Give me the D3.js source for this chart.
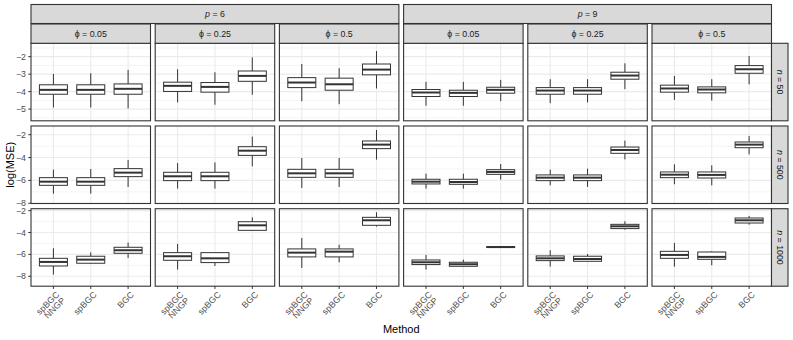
<!DOCTYPE html>
<html>
<head>
<meta charset="utf-8">
<script src="https://cdn.jsdelivr.net/npm/d3@7"></script>
<style>
  html, body { margin: 0; padding: 0; background: #fff; }
  svg { display: block; }
</style>
</head>
<body>
<svg id="chart" width="793" height="340"></svg>
<script>
// ---------------- data ----------------
const pLevels = ["6", "9"];
const phiLevels = ["0.05", "0.25", "0.5"];
const nLevels = ["50", "500", "1000"];
const methods = ["spBGC\nNNGP", "spBGC", "BGC"];

// y tick labels per row (n)
const yTicksN50 = [-5, -4, -3, -2];
const yTicksN500 = [-8, -6, -4, -2];
const yTicksN1000 = [-8, -6, -4, -2];

// y limits per row (free scales)
const yLimN50 = [-5.67, -1.235];
const yLimN500 = [-8.02, -1.24];
const yLimN1000 = [-8.91, -1.82];

// box stats: [lower whisker, Q1, median, Q3, upper whisker]
// 6 panels per row: p=6 (phi .05, .25, .5), p=9 (phi .05, .25, .5); 3 methods each
const statsN50 = [
  [[-4.91, -4.15, -3.90, -3.61, -2.99], [-4.91, -4.15, -3.90, -3.61, -2.95], [-4.96, -4.15, -3.84, -3.56, -2.76]],
  [[-4.62, -3.99, -3.67, -3.46, -2.72], [-4.75, -4.03, -3.73, -3.48, -2.89], [-4.18, -3.41, -3.10, -2.82, -2.04]],
  [[-4.55, -3.77, -3.48, -3.20, -2.42], [-4.72, -3.92, -3.58, -3.23, -2.66], [-3.82, -3.04, -2.74, -2.42, -1.68]],
  [[-4.81, -4.28, -4.05, -3.88, -3.44], [-4.81, -4.28, -4.07, -3.92, -3.44], [-4.55, -4.09, -3.90, -3.75, -3.33]],
  [[-4.66, -4.15, -3.94, -3.77, -3.29], [-4.62, -4.15, -3.94, -3.77, -3.29], [-3.86, -3.29, -3.08, -2.89, -2.38]],
  [[-4.47, -4.03, -3.82, -3.63, -3.10], [-4.51, -4.07, -3.88, -3.73, -3.29], [-3.58, -2.95, -2.72, -2.51, -1.96]]
];
const statsN500 = [
  [[-7.16, -6.43, -6.11, -5.76, -5.06], [-7.16, -6.43, -6.11, -5.76, -5.00], [-6.57, -5.67, -5.32, -4.97, -4.21]],
  [[-6.72, -6.02, -5.64, -5.29, -4.48], [-6.72, -6.02, -5.64, -5.29, -4.42], [-4.77, -3.81, -3.40, -3.05, -2.17]],
  [[-6.66, -5.73, -5.38, -5.03, -4.04], [-6.57, -5.73, -5.38, -5.03, -4.04], [-4.18, -3.22, -2.87, -2.55, -1.59]],
  [[-6.72, -6.31, -6.11, -5.90, -5.41], [-6.72, -6.34, -6.14, -5.90, -5.41], [-5.93, -5.47, -5.26, -5.06, -4.56]],
  [[-6.43, -6.02, -5.76, -5.52, -5.06], [-6.57, -6.02, -5.76, -5.52, -4.97], [-4.16, -3.63, -3.34, -3.08, -2.52]],
  [[-6.34, -5.76, -5.50, -5.26, -4.59], [-6.43, -5.79, -5.52, -5.26, -4.68], [-3.72, -3.14, -2.87, -2.64, -2.12]]
];
const statsN1000 = [
  [[-7.85, -7.06, -6.69, -6.36, -5.44], [-6.87, -6.81, -6.48, -6.17, -5.81], [-6.33, -5.90, -5.62, -5.35, -4.92]],
  [[-7.39, -6.54, -6.17, -5.84, -5.05], [-7.06, -6.75, -6.36, -5.84, -5.84], [-3.86, -3.80, -3.34, -3.01, -2.61]],
  [[-7.24, -6.23, -5.84, -5.50, -4.50], [-6.72, -6.23, -5.75, -5.50, -5.11], [-3.46, -3.34, -2.88, -2.61, -2.15]],
  [[-7.39, -6.93, -6.72, -6.51, -6.05], [-7.15, -7.09, -6.90, -6.72, -6.48], [-5.38, -5.37, -5.33, -5.30, -5.29]],
  [[-7.12, -6.57, -6.36, -6.14, -5.62], [-6.69, -6.63, -6.42, -6.17, -5.96], [-3.74, -3.64, -3.43, -3.25, -2.97]],
  [[-7.12, -6.36, -6.05, -5.72, -4.95], [-7.00, -6.45, -6.23, -5.78, -5.72], [-3.28, -3.13, -2.88, -2.67, -2.49]]
];

const rowTicks = [yTicksN50, yTicksN500, yTicksN1000];
const rowLims = [yLimN50, yLimN500, yLimN1000];
const rowStats = [statsN50, statsN500, statsN1000];

// ---------------- layout ----------------
const FONT = "'Liberation Sans', Arial, Helvetica, sans-serif";
const svg = d3.select("#chart");
const left0 = 31, panelW = 119.5, colStep = 124.2;
const top0 = 43.3, panelH = 77.5, rowStep = 82.7;
const dark = "#333333";

const x = d3.scalePoint().domain(methods).range([0, panelW]).padding(0.6);
const boxW = x.step() * 0.75;

function minorBreaks(ticks, lim) {
  const d = ticks[1] - ticks[0];
  const ext = [ticks[0] - d, ...ticks, ticks[ticks.length - 1] + d];
  const out = [];
  for (let i = 0; i < ext.length - 1; i++) {
    const m = (ext[i] + ext[i + 1]) / 2;
    if (m >= lim[0] && m <= lim[1]) out.push(m);
  }
  return out;
}

nLevels.forEach((nv, r) => {
  const top = top0 + r * rowStep;
  const y = d3.scaleLinear().domain(rowLims[r]).range([top + panelH, top]);
  const ticks = rowTicks[r];
  const minors = minorBreaks(ticks, rowLims[r]);

  for (let c = 0; c < 6; c++) {
    const lx = left0 + c * colStep;
    const g = svg.append("g").attr("transform", `translate(${lx},0)`);
    g.append("rect").attr("x", 0).attr("y", top).attr("width", panelW).attr("height", panelH).attr("fill", "#fff");
    // grid
    g.selectAll(".minor").data(minors).enter().append("line")
      .attr("x1", 0).attr("x2", panelW)
      .attr("y1", d => y(d)).attr("y2", d => y(d))
      .attr("stroke", "#EBEBEB").attr("stroke-width", 0.55);
    g.selectAll(".major").data(ticks).enter().append("line")
      .attr("x1", 0).attr("x2", panelW)
      .attr("y1", d => y(d)).attr("y2", d => y(d))
      .attr("stroke", "#EBEBEB").attr("stroke-width", 1.1);
    g.selectAll(".vmajor").data(methods).enter().append("line")
      .attr("x1", d => x(d)).attr("x2", d => x(d))
      .attr("y1", top).attr("y2", top + panelH)
      .attr("stroke", "#EBEBEB").attr("stroke-width", 1.1);

    // boxes
    const st = rowStats[r][c];
    methods.forEach((m, k) => {
      const [lo, q1, med, q3, hi] = st[k];
      const cx = x(m);
      g.append("line").attr("x1", cx).attr("x2", cx).attr("y1", y(hi)).attr("y2", y(q3))
        .attr("stroke", dark).attr("stroke-width", 1);
      g.append("line").attr("x1", cx).attr("x2", cx).attr("y1", y(q1)).attr("y2", y(lo))
        .attr("stroke", dark).attr("stroke-width", 1);
      g.append("rect").attr("x", cx - boxW / 2).attr("width", boxW)
        .attr("y", y(q3)).attr("height", Math.max(0.01, y(q1) - y(q3)))
        .attr("fill", "#fff").attr("stroke", dark).attr("stroke-width", 1);
      g.append("line").attr("x1", cx - boxW / 2).attr("x2", cx + boxW / 2)
        .attr("y1", y(med)).attr("y2", y(med))
        .attr("stroke", dark).attr("stroke-width", 2);
    });

    // border
    g.append("rect").attr("x", 0).attr("y", top).attr("width", panelW).attr("height", panelH)
      .attr("fill", "none").attr("stroke", dark).attr("stroke-width", 1.1);

    // x axis ticks + labels on bottom row
    if (r === nLevels.length - 1) {
      methods.forEach(m => {
        const cx = x(m);
        g.append("line").attr("x1", cx).attr("x2", cx)
          .attr("y1", top + panelH).attr("y2", top + panelH + 2.75)
          .attr("stroke", dark).attr("stroke-width", 1);
        const lines = m.split("\n");
        const t = g.append("text")
          .attr("transform", `translate(${cx + 2},${top + panelH + 4.5}) rotate(-45)`)
          .attr("text-anchor", "end")
          .attr("font-family", FONT).attr("font-size", 8.8).attr("fill", "#4D4D4D");
        lines.forEach((ln, i) => {
          t.append("tspan").attr("x", 0).attr("dy", i === 0 ? "0.72em" : "0.95em").text(ln);
        });
      });
    }
  }

  // y axis
  const ax = svg.append("g");
  ticks.forEach(tv => {
    ax.append("line").attr("x1", left0 - 2.75).attr("x2", left0)
      .attr("y1", y(tv)).attr("y2", y(tv)).attr("stroke", dark).attr("stroke-width", 1);
    ax.append("text").attr("x", left0 - 5).attr("y", y(tv)).attr("dy", "0.35em")
      .attr("text-anchor", "end").attr("font-family", FONT).attr("font-size", 8.8)
      .attr("fill", "#4D4D4D").text(d3.format("")(tv).replace("-", "\u2212"));
  });

  // right strip
  const sx = left0 + 5 * colStep + panelW;
  svg.append("rect").attr("x", sx).attr("y", top).attr("width", 16.5).attr("height", panelH)
    .attr("fill", "#D9D9D9").attr("stroke", dark).attr("stroke-width", 1.1);
  const st = svg.append("text")
    .attr("transform", `translate(${sx + 8.25},${top + panelH / 2}) rotate(90)`)
    .attr("text-anchor", "middle").attr("dy", "0.35em")
    .attr("font-family", FONT).attr("font-size", 8.8).attr("fill", "#1A1A1A");
  st.append("tspan").attr("font-style", "italic").text("n");
  st.append("tspan").text(" = " + nv);
});

// top strips
pLevels.forEach((pv, i) => {
  const lx = left0 + i * 3 * colStep;
  const w = 2 * colStep + panelW;
  svg.append("rect").attr("x", lx).attr("y", 4.5).attr("width", w).attr("height", 19)
    .attr("fill", "#D9D9D9").attr("stroke", dark).attr("stroke-width", 1.1);
  const t = svg.append("text").attr("x", lx + w / 2).attr("y", 14).attr("dy", "0.35em")
    .attr("text-anchor", "middle").attr("font-family", FONT).attr("font-size", 8.8).attr("fill", "#1A1A1A");
  t.append("tspan").attr("font-style", "italic").text("p");
  t.append("tspan").text(" = " + pv);
  phiLevels.forEach((phv, j) => {
    const px = left0 + (i * 3 + j) * colStep;
    svg.append("rect").attr("x", px).attr("y", 24).attr("width", panelW).attr("height", top0 - 24)
      .attr("fill", "#D9D9D9").attr("stroke", dark).attr("stroke-width", 1.1);
    svg.append("text").attr("x", px + panelW / 2).attr("y", (24 + top0) / 2).attr("dy", "0.35em")
      .attr("text-anchor", "middle").attr("font-family", FONT).attr("font-size", 8.8).attr("fill", "#1A1A1A")
      .text("\u03D5 = " + phv);
  });
});

// axis titles
const plotMidY = top0 + (2 * rowStep + panelH) / 2;
svg.append("text").attr("transform", `translate(14,${plotMidY}) rotate(-90)`)
  .attr("text-anchor", "middle").attr("font-family", FONT).attr("font-size", 11).attr("fill", "#000")
  .text("log(MSE)");
svg.append("text").attr("x", left0 + (5 * colStep + panelW) / 2).attr("y", 333)
  .attr("text-anchor", "middle").attr("font-family", FONT).attr("font-size", 11).attr("fill", "#000")
  .text("Method");
</script>
</body>
</html>
